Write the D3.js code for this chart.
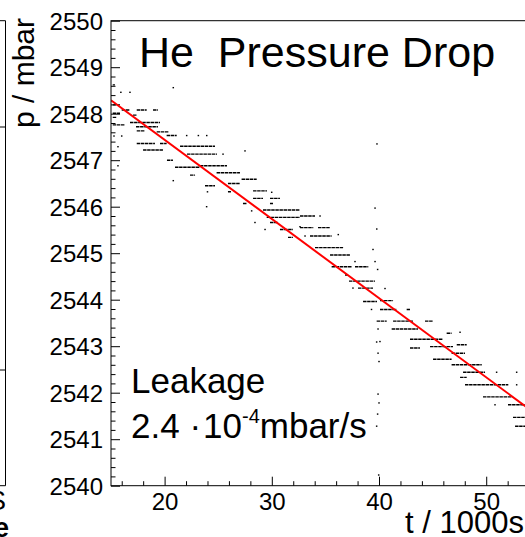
<!DOCTYPE html>
<html>
<head>
<meta charset="utf-8">
<script src="https://cdn.jsdelivr.net/npm/d3@7"></script>
<style>
  body { margin: 0; background: #fff; }
  svg { display: block; font-family: "Liberation Sans", Arial, Helvetica, sans-serif; }
</style>
</head>
<body>
<div id="chart"></div>
<script>
// runs of readings at one quantised pressure level: [t start, t end, p] (t in 1000 s, p in mbar)
var dashes = [
  [15.16, 15.37, 2548.62], [15.16, 15.84, 2548.19], [16.00, 16.77, 2548.08],
  [17.40, 18.33, 2548.08], [18.92, 19.38, 2548.08], [15.16, 15.84, 2548.01],
  [17.05, 17.43, 2547.97], [15.16, 15.53, 2547.92], [16.77, 19.57, 2547.81],
  [15.16, 16.31, 2547.76], [17.33, 19.38, 2547.72], [17.40, 18.17, 2547.63],
  [19.26, 20.35, 2547.61], [20.19, 21.13, 2547.53], [17.40, 19.10, 2547.36],
  [19.57, 20.19, 2547.36], [21.44, 24.70, 2547.30], [17.99, 19.85, 2547.22],
  [22.09, 24.89, 2547.13], [20.22, 20.78, 2547.00], [23.30, 25.82, 2546.88],
  [20.97, 23.30, 2546.85], [24.85, 27.03, 2546.73], [22.37, 22.84, 2546.68],
  [27.18, 28.59, 2546.59], [25.91, 27.03, 2546.50], [23.77, 24.70, 2546.45],
  [28.25, 29.55, 2546.34], [25.91, 26.19, 2546.32], [28.25, 29.18, 2546.18],
  [29.83, 30.76, 2546.18], [27.31, 27.69, 2546.07], [29.83, 30.11, 2546.07],
  [29.18, 32.63, 2545.93], [29.52, 32.63, 2545.77], [29.83, 30.58, 2545.66],
  [30.76, 31.98, 2545.51], [31.51, 31.98, 2545.34], [32.63, 34.03, 2545.80],
  [32.63, 33.87, 2545.55], [34.31, 35.43, 2545.55], [33.56, 35.58, 2545.37],
  [34.03, 36.67, 2545.12], [35.43, 37.29, 2544.96], [35.58, 37.44, 2544.71],
  [37.76, 39.00, 2544.71], [36.83, 37.11, 2544.53], [37.20, 39.63, 2544.40],
  [38.04, 39.44, 2544.25], [38.51, 39.81, 2543.96], [40.09, 41.31, 2543.98],
  [40.09, 41.65, 2543.79], [42.58, 42.89, 2543.79], [39.78, 40.72, 2543.54],
  [41.31, 43.17, 2543.54], [44.29, 45.04, 2543.54], [41.18, 43.64, 2543.37],
  [46.31, 46.77, 2543.28], [42.89, 45.97, 2543.15], [44.76, 46.90, 2542.99],
  [47.25, 48.18, 2543.03], [42.89, 43.82, 2542.96], [46.77, 48.02, 2542.85],
  [45.04, 46.77, 2542.72], [46.77, 49.58, 2542.60], [47.84, 49.89, 2542.44],
  [47.56, 48.18, 2542.33], [48.02, 52.06, 2542.17], [49.70, 52.50, 2541.91],
  [52.03, 53.70, 2541.74], [52.50, 53.70, 2541.47], [52.69, 53.70, 2541.28]
];

// single readings: [t, p]
var dots = [
  [15.92, 2548.46], [16.77, 2548.46], [20.81, 2548.56], [22.06, 2547.53],
  [23.15, 2547.53], [23.93, 2547.53], [15.28, 2547.52], [16.00, 2547.52],
  [15.65, 2547.29], [25.45, 2547.13], [27.50, 2547.20], [15.65, 2546.88],
  [20.81, 2546.56], [24.00, 2546.32], [29.99, 2546.31], [23.92, 2546.00],
  [28.12, 2545.91], [28.43, 2545.66], [29.37, 2545.51], [32.63, 2545.57],
  [39.63, 2545.97], [34.50, 2545.80], [39.79, 2545.52], [33.10, 2545.37],
  [36.20, 2545.40], [39.44, 2545.08], [37.76, 2544.82], [39.63, 2544.82],
  [39.87, 2544.65], [37.57, 2544.25], [40.56, 2544.24], [39.30, 2543.79],
  [39.91, 2543.37], [47.56, 2543.30], [39.78, 2543.09], [40.09, 2543.10],
  [39.91, 2542.85], [40.00, 2542.67], [50.97, 2542.44], [52.84, 2542.44],
  [52.84, 2542.17], [39.91, 2541.97], [40.00, 2541.78], [50.82, 2541.74],
  [39.87, 2541.54], [39.78, 2541.28], [39.81, 2547.35], [39.97, 2540.23]
];

// straight line fit
var fitT = [15, 54];
var fitP = [2548.29, 2541.65];

var xTicks = [20, 30, 40, 50];
var yTicks = [2540, 2541, 2542, 2543, 2544, 2545, 2546, 2547, 2548, 2549, 2550];

window.onload = function() {

  var W = 525, H = 537;

  var x = d3.scaleLinear().domain([15, 54]).range([111, 529.1]);
  var y = d3.scaleLinear().domain([2540, 2550]).range([485.7, 20.7]);

  var svg = d3.select("#chart").append("svg")
      .attr("width", W)
      .attr("height", H);

  svg.append("rect").attr("width", W).attr("height", H).attr("fill", "#fff");

  svg.append("clipPath").attr("id", "frame")
    .append("rect")
      .attr("x", x(15)).attr("y", y(2550))
      .attr("width", x(54) - x(15)).attr("height", y(2540) - y(2550));

  // bit of the neighbouring pad on the left edge
  var side = svg.append("g").attr("stroke", "#000").attr("stroke-width", 1);
  side.append("path").attr("fill", "none")
      .attr("d", "M0," + y(2550) + "H5.5V" + y(2540) + "H0");
  side.append("line").attr("x1", 0).attr("x2", 5.5).attr("y1", 127).attr("y2", 127);
  side.append("line").attr("x1", 0).attr("x2", 5.5).attr("y1", 370).attr("y2", 370);
  svg.append("text").attr("x", 6).attr("y", 510).attr("text-anchor", "end")
      .style("font-size", "27px").text("S");
  svg.append("text").attr("x", 9).attr("y", 537).attr("text-anchor", "end")
      .style("font-size", "27px").style("font-weight", "bold").text("e");

  // data
  var plot = svg.append("g").attr("clip-path", "url(#frame)");

  plot.selectAll(".run").data(dashes).enter().append("line")
      .attr("class", "run")
      .attr("x1", function(d) { return x(d[0]); })
      .attr("x2", function(d) { return x(d[1]); })
      .attr("y1", function(d) { return y(d[2]); })
      .attr("y2", function(d) { return y(d[2]); })
      .attr("stroke", "#000")
      .attr("stroke-width", 1.4)
      .attr("stroke-dasharray", "3.5 0.6");

  plot.selectAll(".pt").data(dots).enter().append("rect")
      .attr("class", "pt")
      .attr("x", function(d) { return x(d[0]) - 0.75; })
      .attr("y", function(d) { return y(d[1]) - 0.7; })
      .attr("width", 1.5)
      .attr("height", 1.4)
      .attr("fill", "#000");

  var fit = fitT.map(function(t, i) { return [t, fitP[i]]; });
  plot.append("path")
      .datum(fit)
      .attr("fill", "none")
      .attr("stroke", "#ff0000")
      .attr("stroke-width", 2)
      .attr("d", d3.line()
        .x(function(d) { return x(d[0]); })
        .y(function(d) { return y(d[1]); }));

  // axes, ticks pointing inwards
  var xMinor = d3.range(16, 54.1, 2).filter(function(v) { return xTicks.indexOf(v) < 0; });
  var yMinor = d3.range(0, 50).map(function(i) { return 2540 + i * 0.2; })
      .filter(function(v) { return Math.abs(v - Math.round(v)) > 0.01; });

  var gx = svg.append("g").attr("transform", "translate(0," + y(2540) + ")");
  gx.append("g").call(d3.axisBottom(x).tickValues(xMinor).tickSize(-4.5).tickFormat(""));
  gx.append("g").call(d3.axisBottom(x).tickValues(xTicks).tickSize(-9).tickPadding(7)
      .tickFormat(d3.format("d")));

  var gy = svg.append("g").attr("transform", "translate(" + x(15) + ",0)");
  gy.append("g").call(d3.axisLeft(y).tickValues(yMinor).tickSize(-4.5).tickFormat(""));
  gy.append("g").call(d3.axisLeft(y).tickValues(yTicks).tickSize(-9).tickPadding(8)
      .tickFormat(d3.format("d")));

  svg.selectAll(".domain").remove();
  svg.selectAll(".tick line").attr("stroke", "#000").attr("stroke-width", 1);
  svg.selectAll(".tick text")
      .attr("fill", "#000")
      .style("font-family", "\"Liberation Sans\", Arial, sans-serif")
      .style("font-size", "24px");
  gy.selectAll(".tick text").attr("dy", "0.35em");

  // frame
  svg.append("rect")
      .attr("x", x(15)).attr("y", y(2550))
      .attr("width", x(54) - x(15)).attr("height", y(2540) - y(2550))
      .attr("fill", "none").attr("stroke", "#000").attr("stroke-width", 1);

  // titles
  svg.append("text")
      .attr("x", 139).attr("y", 67)
      .style("font-size", "43px")
      .style("white-space", "pre")
      .text("He  Pressure Drop");

  svg.append("text")
      .attr("transform", "translate(34,18) rotate(-90)")
      .attr("text-anchor", "end")
      .style("font-size", "30px")
      .text("p / mbar");

  svg.append("text")
      .attr("x", 405).attr("y", 533)
      .style("font-size", "31px")
      .text("t / 1000s");

  svg.append("text")
      .attr("x", 131).attr("y", 392.5)
      .style("font-size", "35px")
      .text("Leakage");

  var leak = svg.append("text")
      .attr("x", 131).attr("y", 438)
      .style("font-size", "35px")
      .style("white-space", "pre");
  leak.append("tspan").text("2.4 \u00b7");
  leak.append("tspan").attr("dx", 2).text("10");
  leak.append("tspan").attr("dy", -15.5).style("font-size", "20px").text("-4");
  leak.append("tspan").attr("dy", 15.5).text("mbar/s");
};
</script>
</body>
</html>
